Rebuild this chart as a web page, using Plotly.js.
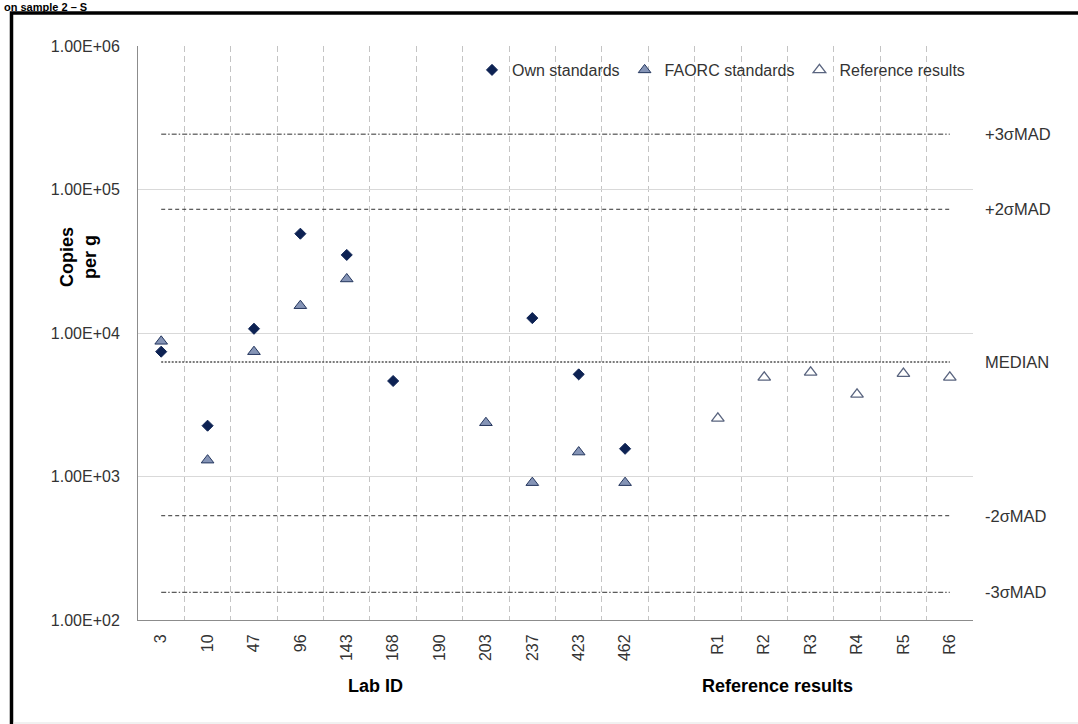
<!DOCTYPE html>
<html>
<head>
<meta charset="utf-8">
<script src="https://cdn.plot.ly/plotly-3.0.1.min.js"></script>
<style>
  html, body { margin: 0; padding: 0; background: #ffffff; }
  #chart { width: 1078px; height: 724px; }
</style>
</head>
<body>
<div id="chart"></div>
<script>
// ---- Data ----
const labIds = ["3", "10", "47", "96", "143", "168", "190", "203", "237", "423", "462", "", "R1", "R2", "R3", "R4", "R5", "R6"];

const ownIds  = ["3", "10", "47", "96", "143", "168", "237", "423", "462"];
const ownVals = [7410, 2260, 10700, 49200, 35000, 4630, 12700, 5150, 1560];

const faorcIds  = ["3", "10", "47", "96", "143", "203", "237", "423", "462"];
const faorcVals = [8750, 1300, 7410, 15500, 23800, 2370, 906, 1480, 906];

const refIds  = ["R1", "R2", "R3", "R4", "R5", "R6"];
const refVals = [2540, 4910, 5320, 3740, 5210, 4910];

const limitNames = ["+3σMAD", "+2σMAD", "MEDIAN", "-2σMAD", "-3σMAD"];
const limitVals  = [243000, 72800, 6280, 533, 156];
const limitDash  = ["5px,2px,1.5px,2px", "4px,3px", "2px,1.5px", "4px,3px", "5px,2px,1.5px,2px"];

const yTickVals = [100, 1000, 10000, 100000, 1000000];
const yTickText = ["1.00E+02", "1.00E+03", "1.00E+04", "1.00E+05", "1.00E+06"];

const seriesNames = ["Own standards", "FAORC standards", "Reference results"];

// ---- Build ----
const W = 1078, H = 724;
const M = { l: 138, r: 105, t: 46, b: 104 };
const pw = W - M.l - M.r, ph = H - M.t - M.b;
const px2x = p => (p - M.l) / pw;
const py2y = p => (H - M.b - p) / ph;

const idx = id => labIds.indexOf(id);
const catIdx = labIds.map((_, i) => i);
const bounds = labIds.map((_, i) => i - 0.5).concat([labIds.length - 0.5]);

const FONT = "Liberation Sans, Arial, sans-serif";

const traces = [];

// reference / limit lines
limitVals.forEach((v, i) => {
  traces.push({
    type: "scatter", mode: "lines",
    x: [catIdx[0], catIdx[catIdx.length - 1]],
    y: [v, v],
    line: { color: i === 2 ? "#505050" : "#303030", width: i === 2 ? 1.5 : 1, dash: limitDash[i] },
    showlegend: false, hoverinfo: "skip"
  });
});

traces.push({
  type: "scatter", mode: "markers", name: seriesNames[0],
  x: ownIds.map(idx), y: ownVals,
  marker: { symbol: "diamond", size: 8.5, color: "#0d2253", line: { color: "#0d2253", width: 1 } }
});
traces.push({
  type: "scatter", mode: "markers", name: seriesNames[1],
  x: faorcIds.map(idx), y: faorcVals,
  marker: { symbol: "triangle-up", size: 11, color: "#8594b6", line: { color: "#24365e", width: 1 } }
});
traces.push({
  type: "scatter", mode: "markers", name: seriesNames[2],
  x: refIds.map(idx), y: refVals,
  marker: { symbol: "triangle-up", size: 11, color: "#ffffff", line: { color: "#59647f", width: 1.3 } }
});

const annotations = [];
limitNames.forEach((n, i) => {
  annotations.push({
    xref: "paper", yref: "y", x: px2x(983), y: Math.log10(limitVals[i]),
    xanchor: "left", yanchor: "middle", showarrow: false, text: n,
    font: { family: FONT, size: 16.5, color: "#333333" }
  });
});
annotations.push({
  xref: "paper", yref: "paper", x: px2x(375), y: py2y(686),
  xanchor: "center", yanchor: "middle", showarrow: false, text: "<b>Lab ID</b>",
  font: { family: FONT, size: 18, color: "#000000" }
});
annotations.push({
  xref: "paper", yref: "paper", x: px2x(777), y: py2y(686),
  xanchor: "center", yanchor: "middle", showarrow: false, text: "<b>Reference results</b>",
  font: { family: FONT, size: 18, color: "#000000" }
});
annotations.push({
  xref: "paper", yref: "paper", x: px2x(78), y: py2y(257),
  xanchor: "center", yanchor: "middle", showarrow: false, textangle: -90,
  text: "<b>Copies<br>per g</b>",
  font: { family: FONT, size: 18, color: "#000000" }
});
annotations.push({
  xref: "paper", yref: "paper", x: px2x(2), y: py2y(-1),
  xanchor: "left", yanchor: "top", showarrow: false,
  text: "<b>on sample 2 – S</b>",
  font: { family: FONT, size: 11, color: "#000000" }
});

const shapes = [
  { type: "rect", xref: "paper", yref: "paper",
    x0: px2x(11.5), x1: px2x(1095), y0: py2y(760), y1: py2y(13),
    line: { color: "#000000", width: 3.5 }, fillcolor: "rgba(0,0,0,0)", layer: "above" },
  { type: "line", xref: "paper", yref: "paper",
    x0: px2x(13), x1: px2x(1078), y0: py2y(723), y1: py2y(723),
    line: { color: "#e3e3e3", width: 1 } }
];

const layout = {
  width: W, height: H,
  margin: M,
  paper_bgcolor: "#ffffff", plot_bgcolor: "#ffffff",
  font: { family: FONT, color: "#333333" },
  showlegend: true,
  legend: {
    orientation: "h", x: px2x(970), xanchor: "right", y: py2y(70), yanchor: "middle",
    bgcolor: "rgba(0,0,0,0)", font: { family: FONT, size: 16, color: "#333333" },
    itemwidth: 30, tracegroupgap: 0
  },
  xaxis: {
    range: [-0.5, labIds.length - 0.5],
    tickmode: "array", tickvals: catIdx, ticktext: labIds,
    tickangle: -90, tickfont: { family: FONT, size: 16, color: "#333333" },
    ticks: "", showgrid: false, zeroline: false,
    showline: true, linecolor: "#8c8c8c", linewidth: 1,
    ticklabelstandoff: 7,
    minor: { tickmode: "array", tickvals: bounds, showgrid: true, gridcolor: "#c4c4c4",
             gridwidth: 1, griddash: "6px,4px", ticks: "" }
  },
  yaxis: {
    type: "log", range: [2, 6],
    tickmode: "array", tickvals: yTickVals, ticktext: yTickText,
    tickfont: { family: FONT, size: 16, color: "#333333" },
    ticks: "", showgrid: true, gridcolor: "#d9d9d9", gridwidth: 1,
    showline: true, linecolor: "#8c8c8c", linewidth: 1, zeroline: false,
    ticklabelstandoff: 14
  },
  shapes: shapes,
  annotations: annotations
};

Plotly.newPlot("chart", traces, layout, { displayModeBar: false, staticPlot: true });
</script>
</body>
</html>
